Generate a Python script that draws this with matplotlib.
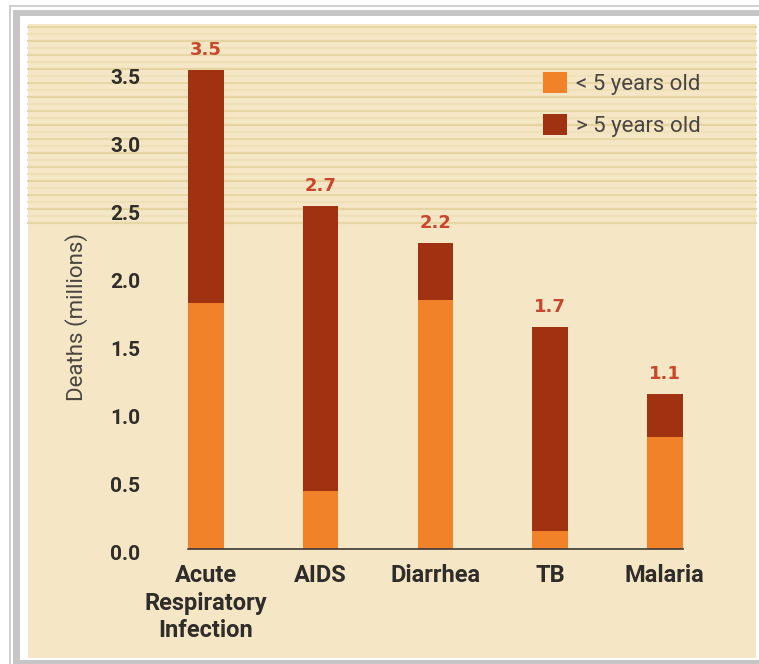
import matplotlib
matplotlib.use("Agg")
import matplotlib.pyplot as plt
from matplotlib.patches import Rectangle, Patch
from matplotlib.lines import Line2D
import matplotlib.transforms as mtransforms

# ---- data ----
categories = ["Acute\nRespiratory\nInfection", "AIDS", "Diarrhea", "TB", "Malaria"]
under5 = [1.81, 0.43, 1.83, 0.13, 0.82]
over5 = [1.71, 2.09, 0.42, 1.50, 0.32]
value_labels = ["3.5", "2.7", "2.2", "1.7", "1.1"]
yticks = [0.0, 0.5, 1.0, 1.5, 2.0, 2.5, 3.0, 3.5]
series_names = ["< 5 years old", "> 5 years old"]

# ---- style ----
ORANGE = "#F2822A"
DARKRED = "#A03211"
BEIGE = "#F5E7C6"
LABELRED = "#C8462C"
TEXT = "#2F2C29"
GREY_TEXT = "#4A4541"

W, H = 759, 664
fig = plt.figure(figsize=(W / 100, H / 100), dpi=100)
fig.patch.set_facecolor("white")


def px_rect(x0, y0, x1, y1, color, z):
    fig.patches.append(Rectangle((x0 / W, 1 - y1 / H), (x1 - x0) / W, (y1 - y0) / H,
                                 transform=fig.transFigure, facecolor=color,
                                 edgecolor="none", zorder=z))


# frame
px_rect(9, 5, W + 10, H + 10, "#D0D0D0", -10)
px_rect(11, 7, W + 10, H + 10, "white", -9)
px_rect(13, 10, W + 10, H + 10, "#C6C6C6", -8)
px_rect(20, 16, W + 10, 660, "white", -7)
px_rect(28, 24, 756, 658, BEIGE, -6)

# stripes in the upper area
stripe_cols = ["#E8D7A6", "#EEDFB6", "#E6D4A0", "#EFE1BA"]
for i, y in enumerate(range(27, 228, 7)):
    fig.add_artist(Line2D([28 / W, 756 / W], [1 - y / H] * 2, transform=fig.transFigure,
                          color=stripe_cols[i % 4], lw=1.6, zorder=-5))

# axes
x0, x1 = 188, 682.6
ybase, ytop = 549, 549 - 3.6 * 136
ax = fig.add_axes([x0 / W, 1 - ybase / H, (x1 - x0) / W, (ybase - ytop) / H])
ax.set_facecolor("none")
ax.set_zorder(2)

xs = list(range(len(categories)))
width = 0.31
ax.bar(xs, under5, width=width, color=ORANGE, zorder=3)
ax.bar(xs, over5, width=width, bottom=under5, color=DARKRED, zorder=3)

ax.set_xlim(-0.155, 4.155)
ax.set_ylim(0, 3.6)

for s in ["top", "right", "left"]:
    ax.spines[s].set_visible(False)
ax.spines["bottom"].set_color("#3A3835")
ax.spines["bottom"].set_linewidth(1.2)
ax.spines["bottom"].set_zorder(4)

ax.set_yticks(yticks)
ax.set_yticklabels([f"{v:.1f}" for v in yticks], fontfamily="Roboto", fontweight="bold",
                   fontsize=15, color=TEXT)
ax.tick_params(axis="y", length=0, pad=34.5)
off = mtransforms.ScaledTranslation(0, -3 / 100, fig.dpi_scale_trans)
for lab in ax.get_yticklabels():
    lab.set_transform(lab.get_transform() + off)

ax.set_xticks(xs)
ax.set_xticklabels(categories, fontfamily="Roboto", fontweight="bold", fontsize=17,
                   color=TEXT, linespacing=1.25)
ax.tick_params(axis="x", length=0, pad=11)

totals = [a + b for a, b in zip(under5, over5)]
for x, t, lab in zip(xs, totals, value_labels):
    ax.annotate(lab, (x, t), xytext=(0, 11), textcoords="offset points",
                ha="center", va="baseline", fontfamily="DejaVu Sans", fontweight="bold",
                fontsize=13, color=LABELRED)

fig.text(77 / W, 1 - 317 / H, "Deaths (millions)", rotation=90, ha="center", va="center",
         fontfamily="Roboto", fontsize=16, color=GREY_TEXT)

handles = [Patch(facecolor=ORANGE, edgecolor="none"), Patch(facecolor=DARKRED, edgecolor="none")]
leg = ax.legend(handles, series_names, loc="upper left",
                bbox_to_anchor=(543 / W, 1 - 72 / H), bbox_transform=fig.transFigure,
                frameon=False, borderpad=0, borderaxespad=0,
                handlelength=1.1, handleheight=1.1, handletextpad=0.4,
                labelspacing=0.85, prop={"family": "Roboto", "size": 16})
for t in leg.get_texts():
    t.set_color(GREY_TEXT)

fig.savefig("out.png", dpi=100)
